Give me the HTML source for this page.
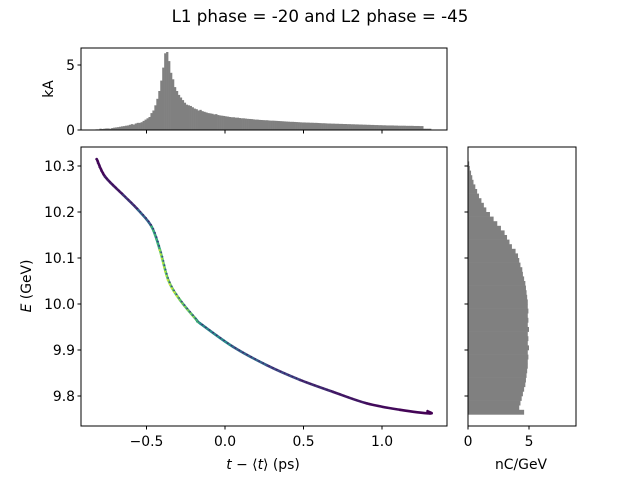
<!DOCTYPE html>
<html><head><meta charset="utf-8"><style>
body{margin:0;background:#fff}
svg{font-family:"DejaVu Sans","Liberation Sans",sans-serif}
</style></head><body>
<svg id="fig" width="640" height="480" xmlns="http://www.w3.org/2000/svg">
<rect width="640" height="480" fill="#fff"/>
<text x="320" y="22" font-size="16.7" text-anchor="middle">L1 phase = -20 and L2 phase = -45</text>
<g id="topHist"></g>
<g id="mainPlot"></g>
<g id="rightHist"></g>
<text x="0" y="0" font-size="13.9" text-anchor="middle" transform="translate(53,89) rotate(-90)">kA</text>
<text x="0" y="0" font-size="13.9" text-anchor="middle" transform="translate(31,286) rotate(-90)"><tspan font-style="italic">E</tspan> (GeV)</text>
<text x="263" y="469" font-size="13.9" text-anchor="middle"><tspan font-style="italic">t</tspan> − ⟨<tspan font-style="italic">t</tspan>⟩ (ps)</text>
<text x="521" y="469" font-size="13.9" text-anchor="middle">nC/GeV</text>
</svg>
<script>
const curveT=[-0.817,-0.764,-0.648,-0.552,-0.467,-0.414,-0.361,-0.287,-0.180,-0.159,0.051,0.266,0.478,0.688,0.903,1.115,1.306,1.29];
const curveE=[10.315,10.277,10.237,10.204,10.168,10.117,10.052,10.009,9.965,9.958,9.907,9.867,9.835,9.809,9.784,9.770,9.762,9.767];
const curveDensity=[0.0,0.05,0.1,0.2,0.4,0.7,0.8,0.75,0.6,0.5,0.35,0.25,0.15,0.1,0.05,0.02,0.0,0.0];
const currentBinStart=-0.825, currentBinWidth=0.0125;
const currentKA=[0.05,0.05,0.1,0.08,0.1,0.12,0.12,0.1,0.15,0.18,0.2,0.22,0.25,0.28,0.3,0.33,0.35,0.4,0.45,0.42,0.5,0.55,0.55,0.6,0.7,0.8,0.9,1.0,1.3,1.5,1.9,2.4,3.0,3.8,4.8,5.9,6.0,5.3,4.4,3.9,3.3,3.0,2.7,2.5,2.3,2.1,1.95,1.9,1.85,1.75,1.65,1.6,1.5,1.55,1.45,1.4,1.35,1.3,1.28,1.25,1.2,1.22,1.15,1.12,1.1,1.08,1.05,1.03,1.0,0.98,0.98,0.95,0.95,0.92,0.9,0.9,0.88,0.86,0.85,0.84,0.82,0.8,0.8,0.78,0.77,0.76,0.75,0.75,0.73,0.72,0.72,0.71,0.7,0.69,0.68,0.67,0.66,0.65,0.64,0.63,0.63,0.62,0.61,0.6,0.59,0.58,0.58,0.57,0.57,0.56,0.56,0.55,0.55,0.54,0.53,0.52,0.52,0.51,0.5,0.5,0.49,0.49,0.48,0.48,0.47,0.47,0.46,0.46,0.45,0.45,0.44,0.44,0.43,0.43,0.42,0.42,0.41,0.41,0.4,0.4,0.39,0.39,0.38,0.38,0.37,0.37,0.36,0.36,0.35,0.35,0.35,0.35,0.34,0.34,0.33,0.33,0.33,0.33,0.32,0.32,0.32,0.32,0.31,0.31,0.31,0.3,0.3,0.1,0.1,0.1,0.1];
const energyBinStart=9.76, energyBinWidth=0.01;
const energyNC=[4.6,4.2,4.3,4.4,4.5,4.6,4.7,4.75,4.8,4.85,4.9,4.9,4.95,4.9,5.0,4.9,4.95,4.9,5.0,4.9,4.95,4.9,4.95,4.9,4.9,4.85,4.8,4.75,4.7,4.6,4.5,4.45,4.3,4.2,4.1,3.9,3.6,3.4,3.2,3.0,2.7,2.4,2.1,1.8,1.5,1.3,1.1,0.9,0.75,0.6,0.45,0.35,0.25,0.15,0.1];
const xTicks=[-0.5,0.0,0.5,1.0], xTickLabels=["−0.5","0.0","0.5","1.0"];
const yTicks=[9.8,9.9,10.0,10.1,10.2,10.3], yTickLabels=["9.8","9.9","10.0","10.1","10.2","10.3"];
const kaTicks=[0,5], ncTicks=[0,5];

const NS="http://www.w3.org/2000/svg";
function mk(p,tag,a){const e=document.createElementNS(NS,tag);for(const k in a)e.setAttribute(k,a[k]);p.appendChild(e);return e;}
const M={l:81,r:447,t:147,b:426}, T={l:81,r:447,t:48,b:130}, R={l:468,r:576,t:147,b:426};
const xS=t=>225+t*157;
const yS=E=>304-(E-10)*460;
const kaS=v=>130-v*13;
const ncS=v=>468+v*12.2;
function viridis(d){const c=[[68,1,84],[59,82,139],[33,145,140],[94,201,98],[253,231,37]];const f=Math.min(0.999,Math.max(0,d))*4,i=Math.floor(f),u=f-i;const a=c[i],b=c[i+1];return `rgb(${a.map((v,k)=>Math.round(v+(b[k]-v)*u)).join(',')})`;}
const FS=13.9;

const topG=document.getElementById('topHist');
currentKA.forEach((v,i)=>{const x0=xS(currentBinStart+i*currentBinWidth),x1=xS(currentBinStart+(i+1)*currentBinWidth);
 const r=mk(topG,'rect',{x:x0,y:kaS(v),width:x1-x0+0.3,height:kaS(0)-kaS(v),fill:'#808080'});
 
 });
mk(topG,'rect',{x:T.l,y:T.t,width:T.r-T.l,height:T.b-T.t,fill:'none',stroke:'#000','stroke-width':1});
kaTicks.forEach(v=>{mk(topG,'line',{x1:T.l,x2:T.l-3.5,y1:kaS(v),y2:kaS(v),stroke:'#000'});const t=mk(topG,'text',{x:T.l-6,y:kaS(v)+5,'font-size':FS,'text-anchor':'end'});t.textContent=v;
 
 });
xTicks.forEach(v=>mk(topG,'line',{x1:xS(v),x2:xS(v),y1:T.b,y2:T.b+3.5,stroke:'#000'}));

const mainG=document.getElementById('mainPlot');
const P=curveT.map((t,i)=>[xS(t),yS(curveE[i])]);
for(let i=0;i<P.length-1;i++){
 const p0=P[Math.max(0,i-1)],p1=P[i],p2=P[i+1],p3=P[Math.min(P.length-1,i+2)];
 const c1=[p1[0]+(p2[0]-p0[0])/6,p1[1]+(p2[1]-p0[1])/6],c2=[p2[0]-(p3[0]-p1[0])/6,p2[1]-(p3[1]-p1[1])/6];
 const d=(curveDensity[i]+curveDensity[i+1])/2;
 const s=mk(mainG,'path',{d:`M${p1[0]},${p1[1]} C${c1[0]},${c1[1]} ${c2[0]},${c2[1]} ${p2[0]},${p2[1]}`,fill:'none',stroke:viridis(d),'stroke-width':2.6,'stroke-linecap':'round'});
 
 
 const L=s.getTotalLength(),n=Math.max(2,Math.round(L/2.2));
 for(let k=0;k<n;k++){const pt=s.getPointAtLength(L*k/n);
  mk(mainG,'circle',{cx:pt.x+((k%2)?0.6:-0.6),cy:pt.y,r:0.9,fill:viridis(k%2?d*0.3:Math.min(1,d*1.25))});}
}
mk(mainG,'rect',{x:M.l,y:M.t,width:M.r-M.l,height:M.b-M.t,fill:'none',stroke:'#000'});
xTicks.forEach((v,i)=>{mk(mainG,'line',{x1:xS(v),x2:xS(v),y1:M.b,y2:M.b+3.5,stroke:'#000'});const t=mk(mainG,'text',{x:xS(v),y:M.b+20,'font-size':FS,'text-anchor':'middle'});t.textContent=xTickLabels[i];
 
 });
yTicks.forEach((v,i)=>{mk(mainG,'line',{x1:M.l,x2:M.l-3.5,y1:yS(v),y2:yS(v),stroke:'#000'});const t=mk(mainG,'text',{x:M.l-6,y:yS(v)+5,'font-size':FS,'text-anchor':'end'});t.textContent=yTickLabels[i];
 
 });

const rightG=document.getElementById('rightHist');
energyNC.forEach((v,i)=>{const y0=yS(energyBinStart+i*energyBinWidth),y1=yS(energyBinStart+(i+1)*energyBinWidth);
 const r=mk(rightG,'rect',{x:ncS(0),y:y1,width:ncS(v)-ncS(0),height:y0-y1+0.3,fill:'#808080'});
 
 });
mk(rightG,'rect',{x:R.l,y:R.t,width:R.r-R.l,height:R.b-R.t,fill:'none',stroke:'#000'});
ncTicks.forEach(v=>{mk(rightG,'line',{x1:ncS(v),x2:ncS(v),y1:R.b,y2:R.b+3.5,stroke:'#000'});const t=mk(rightG,'text',{x:ncS(v),y:R.b+20,'font-size':FS,'text-anchor':'middle'});t.textContent=v;
 
 });
yTicks.forEach(v=>mk(rightG,'line',{x1:R.l,x2:R.l-3.5,y1:yS(v),y2:yS(v),stroke:'#000'}));
</script>
</body></html>
